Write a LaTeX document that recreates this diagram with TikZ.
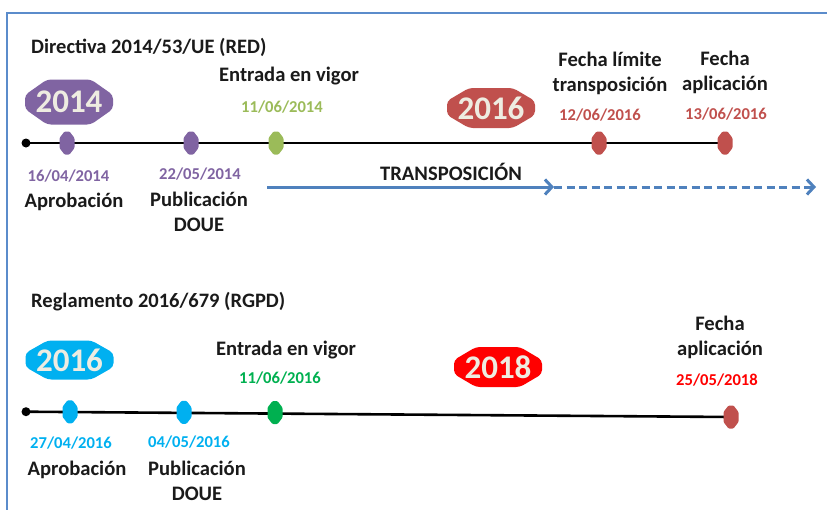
\documentclass[tikz,border=0pt]{standalone}
\usepackage{fontspec}
\setmainfont{Carlito}
\usetikzlibrary{arrows.meta}
\definecolor{purp}{HTML}{8064A2}
\definecolor{olgreen}{HTML}{9BBB59}
\definecolor{brick}{HTML}{C0504D}
\definecolor{steel}{HTML}{4F81BD}
\definecolor{framec}{HTML}{5B8CCB}
\definecolor{cyanb}{HTML}{00B0F0}
\definecolor{greenb}{HTML}{00B050}
\definecolor{redb}{HTML}{FF0000}
\definecolor{cream}{HTML}{EEECE1}
\definecolor{ink}{HTML}{1A1A1A}
\newcommand\mkfill[2]{\fill[#2, rounded corners=1pt, shift={(#1)}] (-2.5,-11.5) -- (2.5,-11.5) -- (7.5,-5) -- (7.5,5) -- (2.5,11.5) -- (-2.5,11.5) -- (-7.5,5) -- (-7.5,-5) -- cycle;}
\newcommand\badgefill[3]{\fill[#2, rounded corners=4pt, shift={(#1)}] (-22,-#3) -- (22,-#3) -- (44,-7) -- (44,7) -- (22,#3) -- (-22,#3) -- (-44,7) -- (-44,-7) -- cycle;}
\begin{document}
\begin{tikzpicture}[x=1pt,y=-1pt,
  lbl/.style={font=\bfseries\fontsize{20.6}{25}\selectfont, inner sep=0pt, align=center, text=ink},
  ttl/.style={font=\bfseries\fontsize{20.5}{24}\selectfont, inner sep=0pt, anchor=west, text=ink},
  dt/.style={font=\bfseries\fontsize{16.6}{20}\selectfont, inner sep=0pt, text=#1},
  badgetxt/.style={font=\bfseries\fontsize{33}{34}\selectfont, inner sep=0pt, text=cream},
  tline/.style={line width=2.6pt, black},
  arr/.style={line width=3pt, steel, -{Straight Barb[length=7pt,width=15pt,line width=3pt]}},
  framel/.style={line width=1.5pt, framec},
  dot/.style={circle, fill=black, inner sep=0pt, minimum size=9pt}
]
\useasboundingbox (0,0) rectangle (827,509);
% frame
\coordinate (fbl) at (7,512);
\coordinate (ftl) at (7,13);
\coordinate (ftr) at (830,13);
\draw[framel] (fbl) -- (ftl) -- (ftr);

% ===== Timeline 1 =====
\node[ttl] (title1) at (31,47) {Directiva 2014/53/UE (RED)};
\coordinate (a1) at (67,143);
\coordinate (b1) at (191,143);
\coordinate (c1) at (276,143);
\coordinate (d1) at (599,143);
\coordinate (e1) at (725,143);
\node[dot] (s1) at (26,143) {};
\draw[tline] (s1.center) -- (e1);
\mkfill{a1}{purp}
\mkfill{b1}{purp}
\mkfill{c1}{olgreen}
\mkfill{d1}{brick}
\mkfill{e1}{brick}

\coordinate (bg1) at (69,102);
\badgefill{bg1}{purp}{22.5}
\node[badgetxt] (y2014) at (bg1) {2014};
\coordinate (bg2) at (491,108);
\badgefill{bg2}{brick}{20}
\node[badgetxt] (y2016a) at (bg2) {2016};

\node[lbl] (ev1) at (289,76) {Entrada en vigor};
\node[dt=olgreen] (d11) at (282,107) {11/06/2014};
\node[lbl] (flt) at (610,73.5) {Fecha límite\\transposición};
\node[dt=brick] (d12) at (600,115) {12/06/2016};
\node[lbl] (fa1) at (725,72.5) {Fecha\\aplicación};
\node[dt=brick] (d13) at (726,114) {13/06/2016};

\node[dt=purp] (d16) at (68.5,176) {16/04/2014};
\node[lbl] (ap1) at (74,202) {Aprobación};
\node[dt=purp] (d22) at (200,174) {22/05/2014};
\node[lbl] (pub1) at (199,211.5) {Publicación\\DOUE};

\node[lbl] (trans) at (451,172) {TRANSPOSICIÓN};
\coordinate (ts) at (267,187);
\coordinate (tm) at (554,187);
\coordinate (te) at (816,187);
\draw[arr] (ts) -- (tm);
\draw[arr, dash pattern=on 8pt off 4.5pt] (tm) -- (te);

% ===== Timeline 2 =====
\node[ttl] (title2) at (31,302) {Reglamento 2016/679 (RGPD)};
\coordinate (a2) at (70,411.8);
\coordinate (b2) at (184,412.3);
\coordinate (c2) at (275,412.6);
\coordinate (e2) at (731,417);
\node[dot] (s2) at (26,411.7) {};
\draw[tline] (s2.center) -- (e2);
\mkfill{a2}{cyanb}
\mkfill{b2}{cyanb}
\mkfill{c2}{greenb}
\mkfill{e2}{brick}

\coordinate (bg3) at (69.5,360);
\badgefill{bg3}{cyanb}{19.5}
\node[badgetxt] (y2016b) at (bg3) {2016};
\coordinate (bg4) at (498,367);
\badgefill{bg4}{redb}{20}
\node[badgetxt] (y2018) at (bg4) {2018};

\node[lbl] (ev2) at (286,350) {Entrada en vigor};
\node[dt=greenb] (d11b) at (280,378) {11/06/2016};
\node[lbl] (fa2) at (720,337.5) {Fecha\\aplicación};
\node[dt=redb] (d25) at (717,380) {25/05/2018};

\node[dt=cyanb] (d27) at (71,443) {27/04/2016};
\node[lbl] (ap2) at (77,470) {Aprobación};
\node[dt=cyanb] (d04) at (189,442) {04/05/2016};
\node[lbl] (pub2) at (197,481) {Publicación\\DOUE};
\end{tikzpicture}
\end{document}
